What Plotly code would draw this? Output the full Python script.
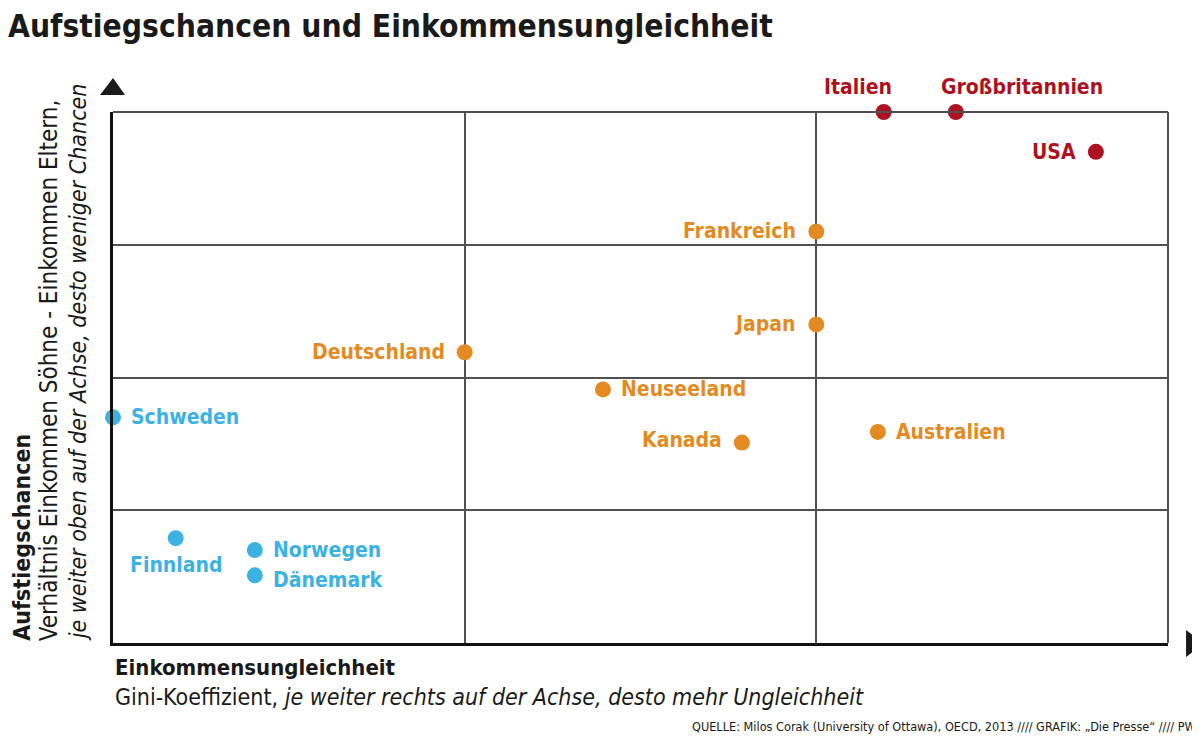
import plotly.graph_objects as go

# Daten: Gini-Koeffizient und Einkommens-Elastizität Söhne/Eltern
laender = ["Italien", "Großbritannien", "USA", "Frankreich", "Japan", "Deutschland",
           "Neuseeland", "Kanada", "Australien", "Schweden", "Finnland", "Norwegen", "Dänemark"]
gini = [0.3415, 0.3538, 0.3777, 0.330, 0.330, 0.270,
        0.2936, 0.3173, 0.3405, 0.210, 0.2207, 0.2342, 0.2342]
elastizitaet = [0.500, 0.500, 0.470, 0.410, 0.340, 0.319,
                0.291, 0.251, 0.259, 0.270, 0.179, 0.170, 0.151]
gruppe = ["rot", "rot", "rot", "orange", "orange", "orange",
          "orange", "orange", "orange", "blau", "blau", "blau", "blau"]

farben = {"rot": "#ac1220", "orange": "#e38b22", "blau": "#3cb2e2"}

# Beschriftung: Seite (l = links vom Punkt, r = rechts, o = oben, u = unten)
seite = ["o", "o", "l", "l", "l", "l", "r", "l", "r", "r", "u", "r", "r"]

FONT = "DejaVu Sans Condensed, DejaVu Sans, sans-serif"
TEXTFARBE = "#1a1a1a"

fig = go.Figure()

for g in ["rot", "orange", "blau"]:
    idx = [i for i in range(len(laender)) if gruppe[i] == g]
    fig.add_trace(go.Scatter(
        x=[gini[i] for i in idx],
        y=[elastizitaet[i] for i in idx],
        mode="markers",
        marker=dict(size=16, color=farben[g]),
        text=[laender[i] for i in idx],
        hoverinfo="text",
        cliponaxis=False,
        showlegend=False
    ))

for i in range(len(laender)):
    a = dict(x=gini[i], y=elastizitaet[i], xref="x", yref="y", text="<b>" + laender[i] + "</b>",
             showarrow=False, font=dict(family=FONT, size=21, color=farben[gruppe[i]]),
             yanchor="middle")
    if seite[i] == "l":
        a.update(xanchor="right", xshift=-18)
    elif seite[i] == "r":
        a.update(xanchor="left", xshift=16)
    elif seite[i] == "o":
        a.update(xanchor="center", yshift=25)
    else:
        a.update(xanchor="center", yshift=-27)
    fig.add_annotation(**a)

# kleine Korrekturen wie im Original
fig.layout.annotations[0].xshift = -26
fig.layout.annotations[1].xshift = 66
fig.layout.annotations[7].yshift = 3
fig.layout.annotations[12].yshift = -5

# Achsenbeschriftung y (gedreht)
ytexte = [("<b>Aufstiegschancen</b>", -0.0870, 23),
          ("Verhältnis Einkommen Söhne - Einkommen Eltern,", -0.0610, 24),
          ("<i>je weiter oben auf der Achse, desto weniger Chancen</i>", -0.0330, 23)]
for t, xp, gr in ytexte:
    fig.add_annotation(x=xp, y=0, xref="paper", yref="paper", text=t, textangle=-90,
                       showarrow=False, xanchor="center", yanchor="bottom",
                       font=dict(family=FONT, size=gr, color=TEXTFARBE))

# Achsenbeschriftung x
fig.add_annotation(x=0, y=-0.047, xref="paper", yref="paper", text="<b>Einkommensungleichheit</b>",
                   showarrow=False, xanchor="left", yanchor="middle",
                   font=dict(family=FONT, size=22, color=TEXTFARBE))
fig.add_annotation(x=0, y=-0.1017, xref="paper", yref="paper",
                   text="Gini-Koeffizient, <i>je weiter rechts auf der Achse, desto mehr Ungleichheit</i>",
                   showarrow=False, xanchor="left", yanchor="middle",
                   font=dict(family=FONT, size=23, color=TEXTFARBE))

# Quelle
fig.add_annotation(x=1.0284, y=-0.175, xref="paper", yref="paper",
                   text="QUELLE: Milos Corak (University of Ottawa), OECD, 2013 //// GRAFIK: „Die Presse“ //// PW",
                   showarrow=False, xanchor="right", yanchor="bottom",
                   font=dict(family=FONT, size=12.6, color=TEXTFARBE))

# Pfeile an den Achsen
fig.add_shape(type="path", xref="paper", yref="paper",
              path="M -0.0123 1.032 L 0.0114 1.032 L 0 1.064 Z",
              fillcolor=TEXTFARBE, line=dict(width=0))
fig.add_shape(type="path", xref="paper", yref="paper",
              path="M 1.0171 0.0245 L 1.0171 -0.0264 L 1.0341 -0.001 Z",
              fillcolor=TEXTFARBE, line=dict(width=0))

# Rahmen oben und rechts
fig.add_shape(type="line", xref="paper", yref="paper", x0=0, x1=1, y0=1, y1=1,
              line=dict(color="#505050", width=2))
fig.add_shape(type="line", xref="paper", yref="paper", x0=1, x1=1, y0=0, y1=1,
              line=dict(color="#505050", width=2))

fig.update_xaxes(range=[0.21, 0.39], dtick=0.06, tick0=0.21, showgrid=True, gridcolor="#505050",
                 gridwidth=1.5, showticklabels=False, ticks="", zeroline=False,
                 showline=True, linecolor="#111111", linewidth=3)
fig.update_yaxes(range=[0.1, 0.5], dtick=0.1, tick0=0.1, showgrid=True, gridcolor="#505050",
                 gridwidth=1.5, showticklabels=False, ticks="", zeroline=False,
                 showline=True, linecolor="#111111", linewidth=3)

# Seite hat 8px Rand -> Figur etwas kleiner
fig.update_layout(
    width=1192, height=733,
    title=dict(text="<b>Aufstiegschancen und Einkommensungleichheit</b>", x=0, xref="container",
               xanchor="left", y=1 - 7 / 733, yanchor="top", yref="container",
               font=dict(family=FONT, size=31.5, color=TEXTFARBE)),
    margin=dict(l=105, r=32, t=104, b=98),
    plot_bgcolor="white", paper_bgcolor="white",
    font=dict(family=FONT)
)

fig.write_html("out.html")
